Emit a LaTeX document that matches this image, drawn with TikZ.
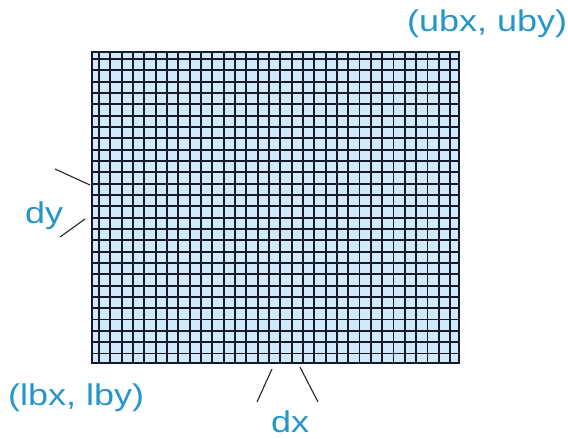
\documentclass[tikz,border=0pt]{standalone}
\usepackage{fontspec}
\setmainfont{Liberation Sans}
\definecolor{gridfill}{RGB}{208,234,250}
\definecolor{gridline}{RGB}{22,26,44}
\definecolor{lblcol}{RGB}{38,150,200}
\begin{document}
\begin{tikzpicture}[x=1pt,y=-1pt,
  lbl/.style={inner sep=0pt,text=lblcol,font=\fontsize{30}{36}\selectfont},
  gline/.style={draw=gridline,line width=1.8pt},
  tick/.style={draw=black!85,line width=1.1pt}]
\useasboundingbox (0,0) rectangle (568,439);
\fill[white] (0,0) rectangle (568,439);
% grid
\fill[gridfill] (92,52) rectangle (459,363);
\foreach \k in {0,...,31} {\draw[gline] ({99+\k*11.33},52) -- ({99+\k*11.33},363);}
\foreach \k in {0,...,26} {\draw[gline] (92,{59+\k*11.33}) -- (459,{59+\k*11.33});}
\draw[gline] (92,52) rectangle (459,363);
% labels
\node[lbl,anchor=base west] (ub) at (407,31) {\scalebox{1.2}[1]{(ubx, uby)}};
\node[lbl,anchor=base west] (lb) at (8,405) {\scalebox{1.2}[1]{(lbx, lby)}};
\node[lbl,anchor=base west] (dy) at (25,223) {\scalebox{1.2}[1]{dy}};
\node[lbl,anchor=base west] (dx) at (271,432) {\scalebox{1.2}[1]{dx}};
% tick lines
\coordinate (dy1a) at (55,169); \coordinate (dy1b) at (90,185);
\coordinate (dy2a) at (60,237); \coordinate (dy2b) at (85,219);
\coordinate (dx1a) at (272,369); \coordinate (dx1b) at (257,402);
\coordinate (dx2a) at (300,367); \coordinate (dx2b) at (318,402);
\draw[tick] (dy1a) -- (dy1b);
\draw[tick] (dy2a) -- (dy2b);
\draw[tick] (dx1a) -- (dx1b);
\draw[tick] (dx2a) -- (dx2b);
\end{tikzpicture}
\end{document}
